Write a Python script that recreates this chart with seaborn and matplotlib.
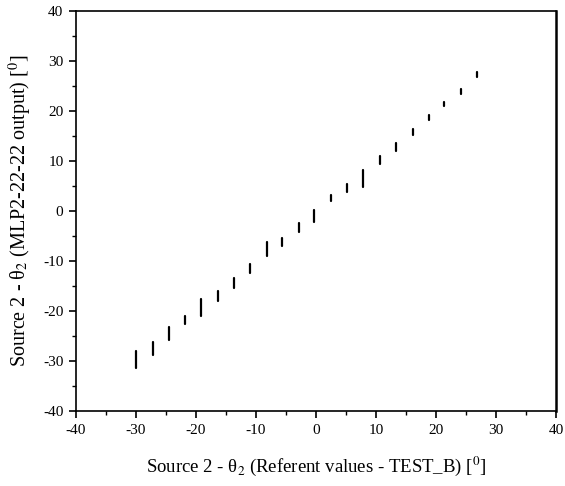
import matplotlib
matplotlib.use("Agg")
import matplotlib.pyplot as plt
import seaborn as sns
import pandas as pd
from matplotlib.ticker import MultipleLocator

# Reference values (x) and spread of network output (low/high)
x_ref = [-30.0, -27.2, -24.5, -21.8, -19.1, -16.4, -13.7, -11.0, -8.2, -5.6, -2.9,
         -0.3, 2.5, 5.2, 7.9, 10.6, 13.3, 16.1, 18.8, 21.4, 24.2, 26.8]
y_low = [-31.3, -28.8, -25.8, -22.5, -20.9, -17.9, -15.3, -12.3, -9.0, -7.0, -4.1,
         -2.1, 2.0, 3.9, 4.9, 9.4, 12.1, 15.2, 18.2, 21.0, 23.4, 26.7]
y_high = [-27.9, -26.1, -23.1, -21.0, -17.5, -16.0, -13.3, -10.6, -6.1, -5.3, -2.3,
          0.3, 3.2, 5.5, 8.2, 11.0, 13.7, 16.5, 19.2, 21.7, 24.4, 27.7]
x_ticks = [-40, -30, -20, -10, 0, 10, 20, 30, 40]
y_ticks = [-40, -30, -20, -10, 0, 10, 20, 30, 40]

rows = []
for i, (xv, lo, hi) in enumerate(zip(x_ref, y_low, y_high)):
    rows.append({"id": i, "x": xv, "y": lo})
    rows.append({"id": i, "x": xv, "y": hi})
df = pd.DataFrame(rows)

sns.set_style("ticks")
plt.rcParams["font.family"] = ["Liberation Serif", "DejaVu Serif"]
plt.rcParams["mathtext.fontset"] = "stix"
plt.rcParams["axes.unicode_minus"] = False
plt.rcParams["text.color"] = "black"
plt.rcParams["axes.labelcolor"] = "black"
plt.rcParams["xtick.color"] = "black"
plt.rcParams["ytick.color"] = "black"

fig = plt.figure(figsize=(5.65, 4.86), dpi=100)
ax = fig.add_axes([76 / 565, 75 / 486, 480 / 565, 400 / 486])

sns.lineplot(data=df, x="x", y="y", units="id", estimator=None, color="black",
             linewidth=1.6, ax=ax, legend=False)

ax.set_xlim(-40, 40)
ax.set_ylim(-40, 40)
ax.set_xticks(x_ticks)
ax.set_yticks(y_ticks)
ax.set_xticklabels([str(v) for v in x_ticks])
ax.set_yticklabels([str(v) for v in y_ticks])
ax.xaxis.set_minor_locator(MultipleLocator(5))
ax.yaxis.set_minor_locator(MultipleLocator(5))
ax.tick_params(axis="both", which="major", direction="out", length=5, width=1.2,
               labelsize=11, colors="black", labelcolor="black",
               top=False, right=False, pad=4)
ax.tick_params(axis="both", which="minor", direction="out", length=3, width=1.0,
               colors="black", top=False, right=False)
for s in ax.spines.values():
    s.set_visible(True)
    s.set_linewidth(1.2)
    s.set_color("black")
ax.spines["right"].set_linewidth(1.8)

ax.set_xlabel("Source 2 - θ$_2$ (Referent values - TEST_B) [$^0$]", fontsize=13.5,
              color="black")
ax.set_ylabel("Source 2 - θ$_2$ (MLP2-22-22 output) [$^0$]", fontsize=14.5,
              color="black")
ax.xaxis.set_label_coords(0.5, -55 / 400, transform=ax.transAxes)
ax.yaxis.set_label_coords(-56 / 480, 0.5, transform=ax.transAxes)
ax.xaxis.label.set_va("center")
ax.yaxis.label.set_va("center")

fig.savefig("out.png", dpi=100)
